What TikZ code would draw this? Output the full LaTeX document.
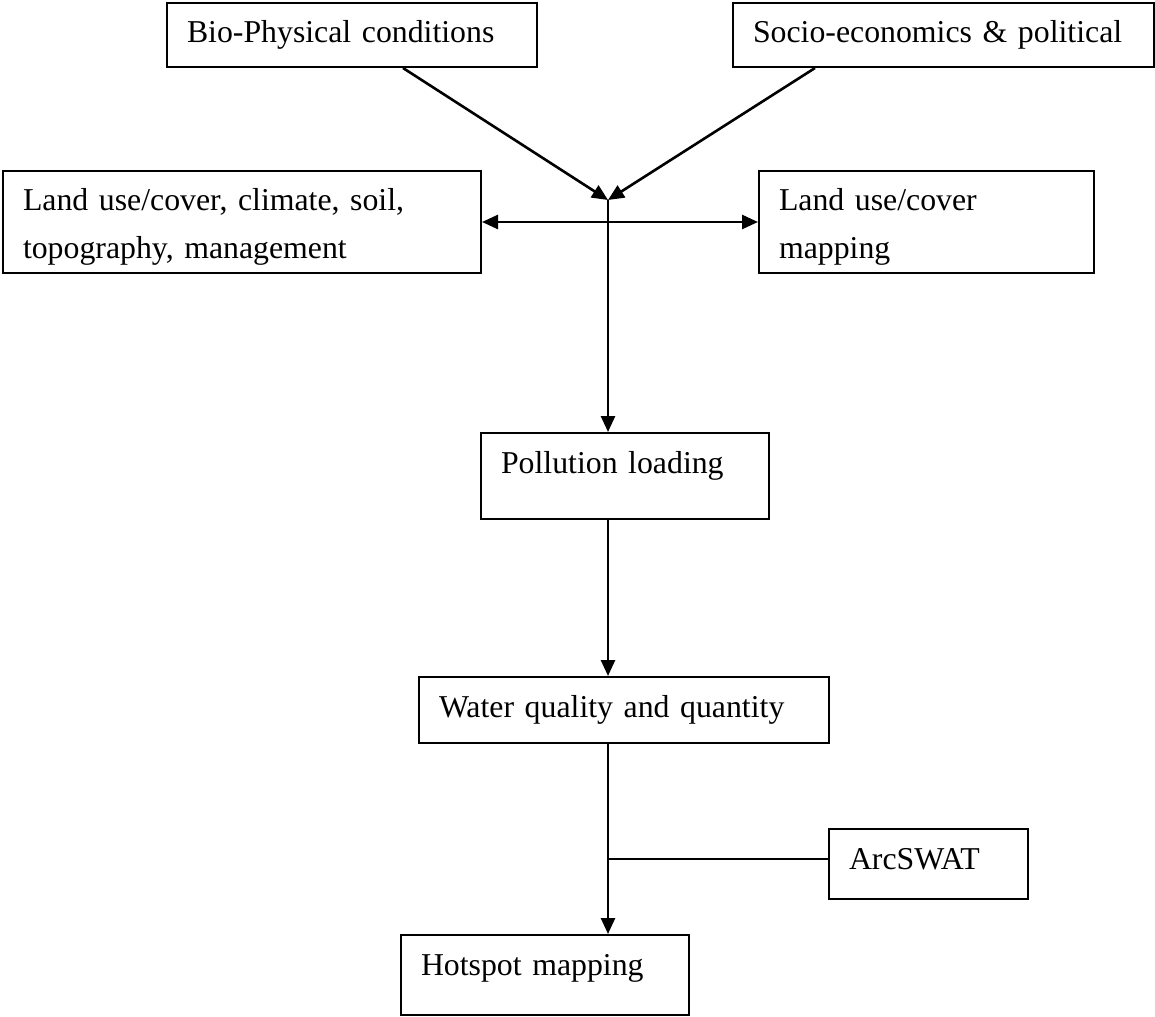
\documentclass[tikz,border=0pt]{standalone}
\usepackage{fontspec}
\setmainfont{Liberation Serif}
\usetikzlibrary{arrows.meta,positioning,calc}

\begin{document}
\begin{tikzpicture}[
    x=0.5pt, y=-0.5pt,
    >={Triangle[length=8pt,width=7pt]},
    box/.style={rectangle, draw, line width=1pt, anchor=north west, align=left,
        inner xsep=10pt, inner ysep=0pt, text height=20pt,
        font=\fontsize{15.9}{24}\selectfont},
    flow/.style={->, line width=1.3pt},
    link/.style={line width=1pt}
]
\useasboundingbox (0,0) rectangle (1155,1016);

\node[box, text width=165pt, text depth=12pt] (bio) at (166,2) {Bio-Physical conditions};
\node[box, text width=190.5pt, text depth=12pt] (socio) at (732,2) {Socio-economics \& political};
\node[box, text width=219pt, text depth=31pt] (landuse) at (2,170) {Land use/cover, climate, soil,\\topography, management};
\node[box, text width=147.5pt, text depth=31pt] (lumap) at (758,170) {Land use/cover\\mapping};
\node[box, text width=124pt, text depth=23pt] (pollution) at (480,432) {Pollution loading};
\node[box, text width=185pt, text depth=13pt] (water) at (418,676) {Water quality and quantity};
\node[box, text width=79.5pt, text depth=15pt] (arcswat) at (828,828) {ArcSWAT};
\node[box, text width=124pt, text depth=20pt] (hotspot) at (400,934) {Hotspot mapping};

\coordinate (hub) at (608,200);

\draw[flow] ([xshift=25.5pt]bio.south) -- (hub);
\draw[flow] ([xshift=-64.25pt]socio.south) -- (hub);
\draw[flow, <->] (landuse.east) -- (lumap.west);
\draw[flow] (hub) -- (hub |- pollution.north);
\draw[flow] (hub |- pollution.south) -- (hub |- water.north);
\draw[flow] (hub |- water.south) -- (hub |- hotspot.north);
\draw[link] ([yshift=2.5pt]arcswat.west) -- ([yshift=2.5pt]arcswat.west -| hub);

\end{tikzpicture}
\end{document}
